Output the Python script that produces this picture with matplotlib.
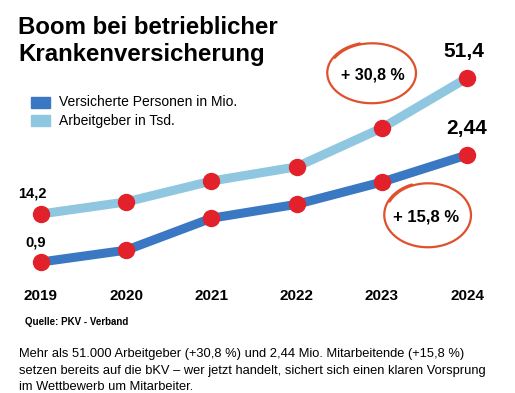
import numpy as np
import matplotlib.pyplot as plt

plt.rcParams['font.family'] = ['Liberation Sans', 'DejaVu Sans']

# data
years = ["2019", "2020", "2021", "2022", "2023", "2024"]
versicherte = [0.9, 1.07, 1.53, 1.73, 2.05, 2.44]   # Mio. (only first/last labelled)
arbeitgeber = [14.2, 17.5, 23.2, 27.1, 37.7, 51.4]  # Tsd.
label_versicherte = "Versicherte Personen in Mio."
label_arbeitgeber = "Arbeitgeber in Tsd."

dark_blue = "#3b78c3"
light_blue = "#8fc7e0"
red = "#e3212b"
pen = "#e0502c"

W, H = 515, 393
fig = plt.figure(figsize=(W / 100, H / 100), dpi=100)

# overlay in pixel coordinates for texts and decorations
ov = fig.add_axes([0, 0, 1, 1])
ov.set_xlim(0, W)
ov.set_ylim(H, 0)
ov.axis("off")

# chart axes (two separate scales, like the original graphic)
ax = fig.add_axes([0, 0, 1, 1], zorder=2)
ax.patch.set_alpha(0)
ax2 = ax.twinx()
x = np.arange(len(years))
ax.set_xlim(-0.481, 5.563)
ax.set_ylim(-0.985, 4.670)
ax2.set_ylim(-34.76, 72.73)
for a in (ax, ax2):
    a.axis("off")

ax2.plot(x, arbeitgeber, color=light_blue, lw=6.5, solid_capstyle="butt", zorder=1)
ax2.plot(x, arbeitgeber, "o", color=red, ms=11.5, zorder=3)
ax.plot(x, versicherte, color=dark_blue, lw=6.5, solid_capstyle="butt", zorder=1)
ax.plot(x, versicherte, "o", color=red, ms=11.5, zorder=3)

def num(v, d):
    return f"{v:.{d}f}".replace(".", ",")

ax2.annotate(num(arbeitgeber[0], 1), (x[0], arbeitgeber[0]), xytext=(-6, 15),
             textcoords="offset points", ha="center", va="center",
             fontsize=10.5, fontweight="bold")
ax.annotate(num(versicherte[0], 1), (x[0], versicherte[0]), xytext=(-4, 14),
            textcoords="offset points", ha="center", va="center",
            fontsize=10.5, fontweight="bold")
ax2.annotate(num(arbeitgeber[-1], 1), (x[-1], arbeitgeber[-1]), xytext=(-2, 19),
             textcoords="offset points", ha="center", va="center",
             fontsize=15, fontweight="bold")
ax.annotate(num(versicherte[-1], 2), (x[-1], versicherte[-1]),
            xytext=(0, 19), textcoords="offset points", ha="center", va="center",
            fontsize=15, fontweight="bold")

for i, yr in enumerate(years):
    ax.annotate(yr, (x[i], ax.get_ylim()[0]), xytext=(0, 70), textcoords="offset points",
                ha="center", va="center", fontsize=11, fontweight="bold")

# title
ov.text(18, 28, "Boom bei betrieblicher", fontsize=17.3, fontweight="bold", va="center")
ov.text(18, 54, "Krankenversicherung", fontsize=17.3, fontweight="bold", va="center")

# legend
ov.add_patch(plt.Rectangle((31, 97), 19, 11, color=dark_blue))
ov.add_patch(plt.Rectangle((31, 115), 19, 11, color=light_blue))
ov.text(59, 102.5, label_versicherte, fontsize=10, va="center")
ov.text(59, 120.5, label_arbeitgeber, fontsize=10, va="center")

# hand drawn circles
def scribble(cx, cy, rx, ry, start):
    t = np.linspace(start, start + 2 * np.pi * 1.12, 300)
    k = 0.985 + 0.035 * (t - start) / (2 * np.pi)
    ov.plot(cx + rx * k * np.cos(t), cy + ry * k * np.sin(t), color=pen, lw=1.6,
            solid_capstyle="round")

scribble(372, 73, 44, 30, -2.6)
ov.text(373, 75, "+ 30,8 %", fontsize=11.5, fontweight="bold", ha="center", va="center")
scribble(428, 215, 43, 32, -2.7)
ov.text(426, 217, "+ 15,8 %", fontsize=12, fontweight="bold", ha="center", va="center")

# source and body text
ov.text(25, 322, "Quelle: PKV - Verband", fontsize=7, fontweight="bold", va="center")
body = ("Mehr als 51.000 Arbeitgeber (+30,8 %) und 2,44 Mio. Mitarbeitende (+15,8 %)\n"
        "setzen bereits auf die bKV \u2013 wer jetzt handelt, sichert sich einen klaren Vorsprung\n"
        "im Wettbewerb um Mitarbeiter.")
ov.text(19, 371, body, fontsize=9.3, va="center", linespacing=1.5)

fig.savefig("out.png", dpi=100)
